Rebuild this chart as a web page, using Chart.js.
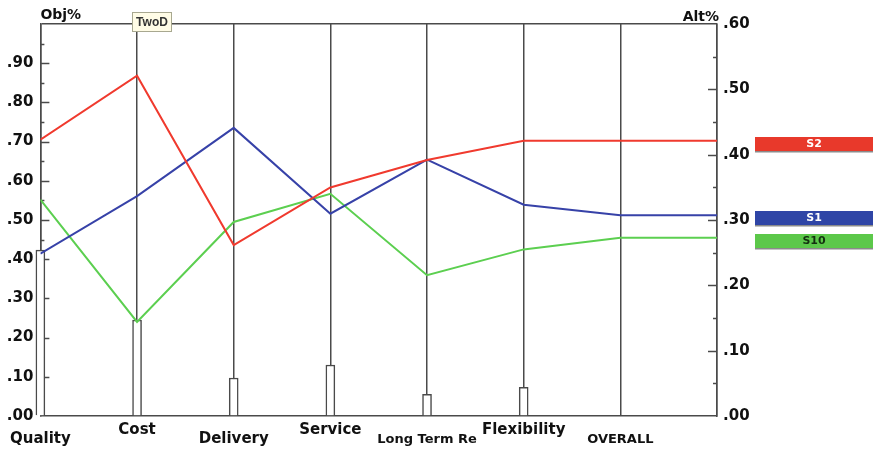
<!DOCTYPE html>
<html><head><meta charset="utf-8">
<script src="https://cdn.jsdelivr.net/npm/chart.js@4.4.1/dist/chart.umd.min.js"></script>
<style>html,body{margin:0;padding:0;background:#fff;}#wrap{width:873px;height:450px;}</style>
</head><body><div id="wrap"><canvas id="c" width="873" height="450"></canvas></div>
<script>
// ---- data ----
const categories = ['Quality', 'Cost', 'Delivery', 'Service', 'Long Term Re', 'Flexibility', 'OVERALL'];
const labelLowRow = [true, false, true, false, true, false, true];
const labelSmall = [false, false, false, false, true, false, true];
const seriesNames = ['S2', 'S1', 'S10'];
const s2Values = [0.705, 0.868, 0.436, 0.583, 0.653, 0.702, 0.702];
const s1Values = [0.414, 0.561, 0.735, 0.516, 0.654, 0.539, 0.512];
const s10Values = [0.552, 0.240, 0.495, 0.567, 0.359, 0.425, 0.455];
const weightValues = [0.423, 0.245, 0.097, 0.130, 0.055, 0.073];
const objRange = [0, 1.0];
const altRange = [0, 0.6];
const tickStep = 0.05;

// ---- styles ----
const FONT = "'DejaVu Sans', sans-serif";
const AXIS = '#4a4a4a';
const seriesColors = ['#f03a2e', '#3742a8', '#5ccf50'];
const boxColors = ['#e8392b', '#2f45a6', '#5cc84a'];
const boxText = ['#ffffff', '#ffffff', '#143010'];

function fmt(v) { return '.' + String(Math.round(v * 100)).padStart(2, '0'); }
function isMajor(v) { return Math.abs(v * 10 - Math.round(v * 10)) < 1e-6; }

const allSeries = [s2Values, s1Values, s10Values];
// each line runs from the categories to the right (Alt%) axis at its OVERALL value
function linePoints(vals) {
  const pts = vals.map((v, i) => ({ x: i, y: v }));
  pts.push({ x: categories.length, y: vals[vals.length - 1] });
  return pts;
}

const insideTicks = {
  id: 'insideTicks',
  beforeDatasetsDraw(chart) {
    const ctx = chart.ctx, a = chart.chartArea;
    ctx.save();
    ctx.strokeStyle = AXIS; ctx.lineWidth = 1.5;
    [['y', a.left, 1], ['y2', a.right, -1]].forEach(([id, x0, dir]) => {
      const s = chart.scales[id];
      s.ticks.forEach(t => {
        if (t.value <= s.min + 1e-9 || t.value >= s.max - 1e-9) return;
        const y = Math.round(s.getPixelForValue(t.value)) + 0.5;
        const len = isMajor(t.value) ? 9 : 4;
        ctx.beginPath(); ctx.moveTo(x0, y); ctx.lineTo(x0 + dir * len, y); ctx.stroke();
      });
    });
    ctx.restore();
  }
};

const annotations = {
  id: 'annotations',
  afterDraw(chart) {
    const ctx = chart.ctx, a = chart.chartArea;
    const xs = chart.scales.x, ys = chart.scales.y;
    ctx.save();
    // axis titles
    ctx.fillStyle = '#111';
    ctx.font = 'bold 14px ' + FONT;
    ctx.textBaseline = 'alphabetic';
    ctx.textAlign = 'left';
    ctx.fillText('Obj%', a.left, 19);
    ctx.textAlign = 'right';
    ctx.fillText('Alt%', a.right + 2, 21);
    // TwoD marker on the Cost axis
    const tx = Math.round(xs.getPixelForValue(1)) - 5;
    ctx.fillStyle = '#fffce6';
    ctx.fillRect(tx, 12, 40, 20);
    ctx.strokeStyle = '#a8a890'; ctx.lineWidth = 1;
    ctx.strokeRect(tx + 0.5, 12.5, 39, 19);
    ctx.fillStyle = '#333';
    ctx.font = "bold 12px 'Liberation Sans', sans-serif";
    ctx.textAlign = 'center'; ctx.textBaseline = 'middle';
    ctx.fillText('TwoD', tx + 20, 23);
    // series tags at the right
    allSeries.forEach((vals, i) => {
      const yl = ys.getPixelForValue(vals[vals.length - 1]);
      const top = Math.round(yl - 4);
      ctx.fillStyle = boxColors[i];
      ctx.fillRect(755, top, 873 - 755, 14);
      ctx.fillStyle = '#8a8a8a';
      ctx.fillRect(755, top + 14, 873 - 755, 1.5);
      ctx.fillStyle = boxText[i];
      ctx.font = 'bold 11px ' + FONT;
      ctx.textAlign = 'center'; ctx.textBaseline = 'middle';
      ctx.fillText(seriesNames[i], 814, top + 7.5);
    });
    ctx.restore();
  }
};

const datasets = allSeries.map((vals, i) => ({
  type: 'line',
  label: seriesNames[i],
  data: linePoints(vals),
  borderColor: seriesColors[i],
  borderWidth: 2,
  pointRadius: 0,
  tension: 0,
  fill: false,
  order: i,
  yAxisID: 'y'
}));
datasets.push({
  type: 'bar',
  label: 'weights',
  data: weightValues.map((v, i) => ({ x: i, y: v })),
  backgroundColor: '#ffffff',
  borderColor: AXIS,
  borderWidth: 1.5,
  barThickness: 9,
  clip: false,
  order: 10,
  yAxisID: 'y'
});

new Chart(document.getElementById('c'), {
  type: 'line',
  data: { datasets },
  plugins: [insideTicks, annotations],
  options: {
    responsive: false,
    devicePixelRatio: 1,
    animation: false,
    events: [],
    layout: { padding: { top: 24, left: 0, right: 0, bottom: 0 } },
    plugins: { legend: { display: false }, tooltip: { enabled: false }, title: { display: false } },
    scales: {
      x: {
        type: 'linear', position: 'bottom', min: 0, max: categories.length, offset: false,
        afterFit(s) { s.height = 34; },
        grid: { color: AXIS, lineWidth: 1.5, drawTicks: false, offset: false },
        border: { display: true, color: AXIS, width: 1.5 },
        ticks: {
          stepSize: 1, autoSkip: false, maxRotation: 0, padding: 10, color: '#111',
          font: (ctx) => {
            const i = ctx.tick ? Math.round(ctx.tick.value) : 0;
            if (labelSmall[i]) return { family: FONT, size: 13, weight: 'bold', lineHeight: '9px' };
            return { family: FONT, size: 15, weight: 'bold', lineHeight: '9px' };
          },
          callback: (v) => {
            const i = Math.round(v);
            if (i < 0 || i >= categories.length) return '';
            return labelLowRow[i] ? ['', categories[i]] : categories[i];
          }
        }
      },
      y: {
        position: 'left', min: objRange[0], max: objRange[1],
        afterFit(s) { s.width = 40; },
        grid: {
          drawTicks: false, lineWidth: 1.5,
          color: (ctx) => (ctx.tick && Math.abs(ctx.tick.value - objRange[1]) < 1e-9) ? AXIS : 'rgba(0,0,0,0)'
        },
        border: { display: true, color: AXIS, width: 1.5 },
        ticks: {
          stepSize: tickStep, maxTicksLimit: 100, autoSkip: false, padding: 7, color: '#111',
          font: { family: FONT, size: 15, weight: 'bold' },
          callback: (v) => (isMajor(v) && v < objRange[1] - 1e-9) ? fmt(v) : ''
        }
      },
      y2: {
        position: 'right', min: altRange[0], max: altRange[1],
        afterFit(s) { s.width = 156; },
        grid: { drawTicks: false, drawOnChartArea: false },
        border: { display: true, color: AXIS, width: 1.5 },
        ticks: {
          stepSize: tickStep, maxTicksLimit: 100, autoSkip: false, padding: 6, color: '#111',
          font: { family: FONT, size: 15, weight: 'bold' },
          callback: (v) => isMajor(v) ? fmt(v) : ''
        }
      }
    }
  }
});
</script>
</body></html>
